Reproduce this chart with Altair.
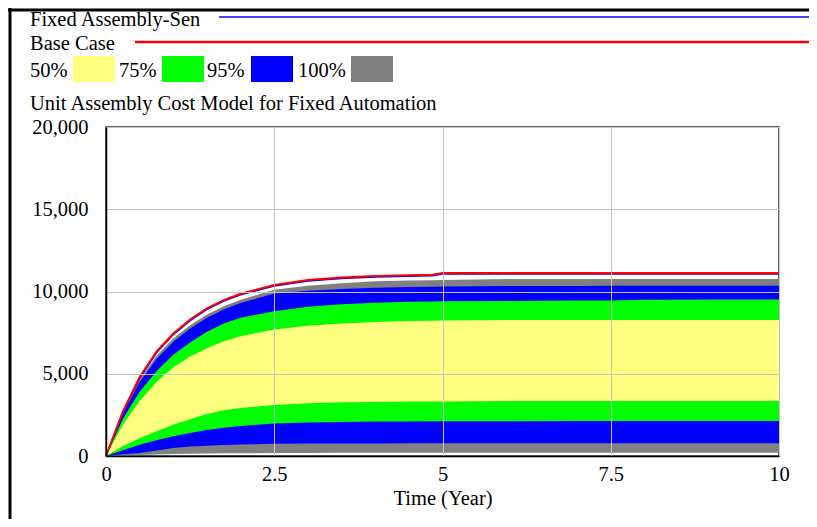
import altair as alt
import pandas as pd

# ---- data ----
time = [0, 0.25, 0.5, 0.75, 1, 1.25, 1.5, 1.75, 2, 2.5, 3, 3.5, 4, 4.5, 4.85, 5, 6, 7, 7.5, 8, 9, 10]
base_case = [0, 2700, 4800, 6350, 7450, 8300, 8980, 9480, 9860, 10400, 10700, 10850, 10940, 10990, 11020,
             11125, 11125, 11125, 11125, 11125, 11125, 11125]
fixed_sen = [0, 2640, 4720, 6270, 7380, 8230, 8920, 9420, 9800, 10340, 10640, 10790, 10880, 10930, 10960,
             11065, 11065, 11065, 11065, 11065, 11065, 11065]
p100_high = [0, 2650, 4650, 6100, 7150, 7950, 8600, 9100, 9500, 10100, 10350, 10500, 10620, 10670, 10690,
             10700, 10760, 10760, 10760, 10760, 10760, 10760]
p95_high = [0, 2550, 4500, 5900, 6950, 7750, 8400, 8900, 9300, 9880, 10050, 10150, 10230, 10280, 10295,
            10300, 10330, 10340, 10350, 10350, 10350, 10350]
p75_high = [0, 2250, 3900, 5150, 6150, 6900, 7550, 8050, 8400, 8800, 9080, 9220, 9320, 9370, 9390,
            9400, 9430, 9450, 9460, 9500, 9510, 9510]
p50_high = [0, 1900, 3350, 4500, 5400, 6050, 6550, 6980, 7280, 7690, 7920, 8060, 8150, 8200, 8220,
            8230, 8260, 8270, 8270, 8270, 8270, 8270]
p50_low = [0, 600, 1080, 1500, 1900, 2230, 2550, 2780, 2920, 3100, 3200, 3260, 3290, 3310, 3318,
           3320, 3340, 3345, 3345, 3345, 3345, 3345]
p75_low = [0, 350, 680, 950, 1200, 1400, 1580, 1720, 1830, 1980, 2040, 2070, 2090, 2100, 2108,
           2110, 2120, 2130, 2130, 2130, 2130, 2130]
p95_low = [0, 100, 190, 330, 480, 570, 630, 670, 700, 740, 755, 762, 766, 768, 769,
           770, 770, 770, 770, 770, 770, 770]
p100_low = [0, 30, 60, 90, 120, 140, 150, 160, 170, 180, 190, 195, 198, 200, 200,
            200, 200, 200, 200, 200, 200, 200]

x_ticks = [0, 2.5, 5, 7.5, 10]
y_ticks = [0, 5000, 10000, 15000, 20000]

band_levels = ["50%", "75%", "95%", "100%"]
band_colors = ["#FFFF80", "#00FF00", "#0000FF", "#808080"]

title_text = "Unit Assembly Cost Model for Fixed Automation"
x_title = "Time (Year)"
line_names = ["Fixed Assembly-Sen", "Base Case"]
line_colors = ["#0000FF", "#FF0000"]

df = pd.DataFrame({
    "time": time, "base": base_case, "sen": fixed_sen,
    "p100h": p100_high, "p100l": p100_low,
    "p95h": p95_high, "p95l": p95_low,
    "p75h": p75_high, "p75l": p75_low,
    "p50h": p50_high, "p50l": p50_low,
})

FONT = "Liberation Serif"
FS = 20.5

xs = alt.Scale(domain=[0, 10], nice=False)
ys = alt.Scale(domain=[0, 20000], nice=False)

x_axis = alt.Axis(values=x_ticks, labelExpr="format(datum.value, '~g')", title=x_title, grid=True,
                  gridColor="#C4C4C4", ticks=False, domainColor="#000000", labelPadding=8,
                  titlePadding=4, zindex=1, labelFlush=False)
y_axis = alt.Axis(values=y_ticks, labelExpr="format(datum.value, ',')", title="", grid=True,
                  gridColor="#C4C4C4", ticks=False, domainColor="#000000", labelPadding=18, zindex=1)

base = alt.Chart(df)
X = alt.X("time:Q", scale=xs, axis=x_axis)


def band(hi, lo, color):
    return base.mark_area(color=color, opacity=1).encode(
        x=X,
        y=alt.Y(f"{hi}:Q", scale=ys, axis=y_axis),
        y2=alt.Y2(f"{lo}:Q"),
    )


layers = [
    band("p100h", "p100l", band_colors[3]),
    band("p95h", "p95l", band_colors[2]),
    band("p75h", "p75l", band_colors[1]),
    band("p50h", "p50l", band_colors[0]),
    base.mark_line(color=line_colors[0], strokeWidth=1.5).encode(
        x=X, y=alt.Y("sen:Q", scale=ys, axis=y_axis)),
    base.mark_line(color=line_colors[1], strokeWidth=2).encode(
        x=X, y=alt.Y("base:Q", scale=ys, axis=y_axis)),
]

# ---- header legend (decoration) ----
dummy = pd.DataFrame({"k": [0]})
hd = alt.Chart(dummy)


def txt(s, x, y):
    return hd.mark_text(text=s, align="left", baseline="alphabetic", font=FONT, fontSize=FS,
                        color="#000000").encode(x=alt.value(x), y=alt.value(y))


def hrule(x1, x2, y, color, w):
    return hd.mark_rule(color=color, strokeWidth=w).encode(
        x=alt.value(x1), x2=alt.value(x2), y=alt.value(y))


def swatch(x1, x2, color):
    return hd.mark_rect(color=color).encode(
        x=alt.value(x1), x2=alt.value(x2), y=alt.value(-71), y2=alt.value(-45))


header = [
    txt(line_names[0], -76, -101),
    hrule(113, 707, -110, line_colors[0], 1.5),
    txt(line_names[1], -76, -77),
    hrule(29, 707, -85, line_colors[1], 2.5),
    txt(band_levels[0], -76, -50), swatch(-33, 9, band_colors[0]),
    txt(band_levels[1], 13, -50), swatch(56, 98, band_colors[1]),
    txt(band_levels[2], 101, -50), swatch(145, 187, band_colors[2]),
    txt(band_levels[3], 192, -50), swatch(245, 287, band_colors[3]),
    txt(title_text, -76, -17),
    # outer frame (top and left)
    hd.mark_rule(color="#000000", strokeWidth=3).encode(
        x=alt.value(-96), y=alt.value(-119), y2=alt.value(392)),
    hd.mark_rule(color="#000000", strokeWidth=3).encode(
        x=alt.value(-98), x2=alt.value(703), y=alt.value(-117)),
]

chart = alt.layer(*layers, *header).properties(
    width=673, height=329,
    autosize=alt.AutoSizeParams(type="none"),
    padding={"left": 98, "top": 119, "right": 30, "bottom": 63},
    background="#FFFFFF",
).configure_view(
    stroke="#333333", strokeWidth=1.5
).configure_axis(
    labelFont=FONT, labelFontSize=FS, labelColor="#000000",
    titleFont=FONT, titleFontSize=FS, titleFontWeight="normal", titleColor="#000000",
    domainWidth=1.5,
)

chart.save("out.html", embed_options={"renderer": "svg", "actions": False})
